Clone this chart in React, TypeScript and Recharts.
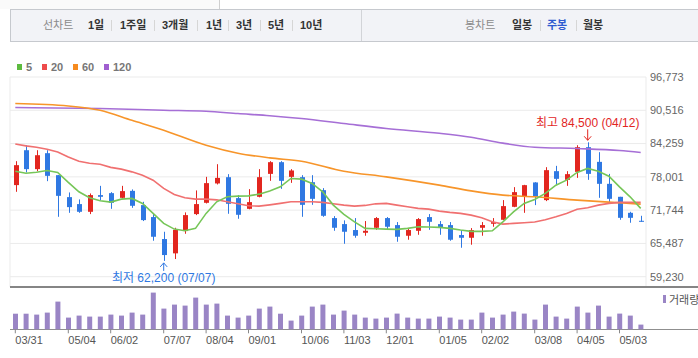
import React from 'react';
import { ComposedChart, BarChart, Bar, Line, XAxis, YAxis, CartesianGrid, ReferenceDot } from 'recharts';

// weekly candles
const dates = [
  '03/31', '04/07', '04/14', '04/21', '04/28', '05/04', '05/11', '05/18', '05/25', '06/02',
  '06/09', '06/16', '06/23', '06/30', '07/07', '07/14', '07/21', '07/28', '08/04', '08/11',
  '08/18', '08/25', '09/01', '09/08', '09/15', '09/22', '09/29', '10/06', '10/13', '10/20',
  '10/27', '11/03', '11/10', '11/17', '11/24', '12/01', '12/08', '12/15', '12/22', '12/29',
  '01/05', '01/12', '01/19', '01/26', '02/02', '02/09', '02/16', '02/23', '03/02', '03/08',
  '03/15', '03/22', '03/29', '04/05', '04/12', '04/19', '04/26', '05/03', '05/10', '05/17',
];

const opens = [
  76450, 83010, 79450, 82450, 78320, 74190, 72880, 71430, 74570, 74940,
  74060, 75370, 72690, 70440, 66310, 63620, 67810, 71000, 73120, 76760,
  77940, 74000, 71990, 74250, 78560, 80760, 78000, 77940, 77000, 75500,
  70250, 69120, 68000, 67490, 68430, 70250, 68930, 66930, 67860, 70440,
  69120, 68930, 67060, 66550, 68430, 69180, 69930, 72370, 74250, 76950,
  73630, 79070, 77440, 78940, 83580, 80820, 76690, 74250, 71240, 69740,
];
const highs = [
  80950, 83950, 83010, 83010, 78320, 75070, 73760, 74880, 76310, 75130,
  76310, 75640, 73310, 71190, 67680, 68430, 71320, 75450, 78000, 80380,
  78510, 74570, 75690, 79450, 80950, 80950, 79450, 78320, 78320, 75880,
  70620, 69820, 70250, 69690, 70440, 70440, 69500, 68240, 70250, 71000,
  69690, 69500, 68000, 68370, 69500, 70250, 73630, 76070, 76500, 77000,
  79820, 80070, 79070, 83950, 84500, 82640, 78560, 74250, 71430, 70680,
];
const lows = [
  75190, 78830, 79070, 77190, 70490, 71240, 71240, 71000, 73570, 71990,
  73950, 72180, 69690, 65990, 62200, 62550, 67300, 70810, 73000, 76570,
  71060, 70120, 71900, 74150, 77250, 75750, 76870, 70490, 72740, 70490,
  67860, 65420, 66550, 66930, 68050, 68050, 65800, 66180, 67110, 68050,
  67110, 65990, 64670, 65240, 66930, 68620, 69900, 72300, 71240, 72690,
  73440, 76570, 76310, 77810, 77440, 74060, 73120, 69930, 69370, 69550,
];
const closes = [
  80200, 79450, 82070, 78190, 74430, 72310, 71430, 74570, 74250, 73120,
  75320, 72560, 69870, 66740, 63300, 68050, 70810, 72880, 76820, 77810,
  72930, 70870, 73250, 77940, 80760, 77250, 79200, 72740, 73870, 70680,
  68430, 67680, 66930, 67860, 70250, 68620, 66740, 68000, 70060, 69550,
  68430, 66180, 66550, 68000, 68930, 69500, 72500, 75130, 76440, 74250,
  79260, 77630, 78510, 83580, 78560, 76690, 73870, 70300, 70300, 69550,
];
const volumes = [
  1560, 1560, 1470, 1670, 2770, 1170, 1370, 1270, 1270, 1470,
  1370, 1670, 1470, 3670, 2070, 2470, 2370, 3170, 2470, 2570,
  1370, 1170, 1370, 2070, 2270, 1560, 870, 1370, 2270, 2470,
  1470, 1870, 1470, 1170, 1070, 1170, 1570, 1170, 1070, 1070,
  1270, 1170, 970, 970, 1670, 1170, 1470, 1770, 1570, 970,
  2470, 1270, 1070, 2270, 1670, 2370, 1270, 1570, 1370, 470,
];

// moving averages
const ma5 = [
  79070, 78690, 78880, 79200, 78830, 76950, 75190, 74060, 73500, 73250,
  73810, 73950, 73010, 71130, 69250, 68180, 67860, 68320, 71130, 73310,
  74250, 74380, 74430, 74750, 75320, 76120, 77700, 77570, 76760, 75190,
  72690, 70940, 69550, 68320, 68240, 68180, 68130, 68320, 68620, 68560,
  68500, 68320, 68000, 67750, 67750, 67860, 69550, 71430, 73010, 73760,
  74880, 76440, 77380, 78830, 79580, 79070, 78130, 76120, 74250, 72070,
];
const ma20 = [
  84190, 83820, 83580, 83200, 82690, 81750, 80950, 80570, 80380, 79780,
  79450, 78940, 78320, 77380, 75820, 74700, 74060, 73810, 73810, 73680,
  73310, 72930, 72560, 72500, 72740, 73010, 73310, 73310, 73310, 73200,
  72930, 72690, 72500, 72630, 72930, 73010, 72690, 72370, 72070, 71940,
  71560, 71320, 71130, 70810, 70300, 69550, 69120, 69250, 69370, 69500,
  69930, 70490, 71130, 71900, 72180, 72690, 73010, 73200, 73200, 73200,
];
const ma60Idx = [0, 5, 8, 11, 14, 18, 21, 24, 27, 31, 35, 40, 43, 46, 49, 53, 57, 59];
const ma60Val = [91780, 91330, 90520, 88640, 86770, 83950, 82450, 81570, 80950, 79070, 78000, 76440, 75370, 74570, 74250, 73630, 73120, 72880];
const ma120Idx = [0, 8, 14, 18, 21, 24, 27, 31, 35, 40, 43, 46, 49, 53, 57, 59];
const ma120Val = [91030, 90840, 90520, 90330, 89900, 89490, 88960, 88020, 87090, 86200, 85450, 84340, 83570, 83330, 82960, 82580];

const tickDates = ['03/31', '05/04', '06/02', '07/07', '08/04', '09/01', '10/06', '11/03', '12/01', '01/05', '02/02', '03/08', '04/05', '05/03'];
const yTicks = [59230, 65487, 71744, 78001, 84259, 90516, 96773];

const maLegend = [
  { name: '5', color: '#5dbb3f' },
  { name: '20', color: '#ee4b4b' },
  { name: '60', color: '#f68b1f' },
  { name: '120', color: '#a05fd0' },
];
const periodTabs = ['1일', '1주일', '3개월', '1년', '3년', '5년', '10년'];
const candleTabs = ['일봉', '주봉', '월봉'];

const UP = '#e2261f';
const DOWN = '#2f78e2';
const FONT = '"Liberation Sans", "Noto Sans CJK KR", sans-serif';

const fmt = (v: number) => v.toLocaleString('en-US');

const chartData = dates.map((date, i) => {
  const j60 = ma60Idx.indexOf(i);
  const j120 = ma120Idx.indexOf(i);
  return {
    date,
    open: opens[i],
    high: highs[i],
    low: lows[i],
    close: closes[i],
    range: [lows[i], highs[i]],
    ma5: ma5[i],
    ma20: ma20[i],
    ma60: j60 >= 0 ? ma60Val[j60] : null,
    ma120: j120 >= 0 ? ma120Val[j120] : null,
    vol: volumes[i],
  };
});

const hiIdx = highs.indexOf(Math.max(...highs));
const loIdx = lows.indexOf(Math.min(...lows));

const Candle = (props: any) => {
  const { x, y, width, height, payload } = props;
  if (x == null || !payload) return null;
  const { open, close, high, low } = payload;
  const color = close >= open ? UP : DOWN;
  const yTop = Math.min(y, y + height);
  const h = Math.abs(height);
  const cx = Math.round(x + width / 2);
  const k = high > low ? h / (high - low) : 0;
  const top = yTop + (high - Math.max(open, close)) * k;
  const bot = yTop + (high - Math.min(open, close)) * k;
  return (
    <g>
      <line x1={cx + 0.5} x2={cx + 0.5} y1={yTop} y2={yTop + h} stroke={color} strokeWidth={1} />
      <rect x={cx - 2} y={top} width={5} height={Math.max(bot - top, 1)} fill={color} />
    </g>
  );
};

const HighMark = (p: any) => {
  const { cx, cy } = p;
  return (
    <g>
      <text x={cx} y={cy - 18} textAnchor="middle" dominantBaseline="middle" fill={UP} fontSize={12} fontFamily={FONT}>
        {`최고 ${fmt(highs[hiIdx])} (${dates[hiIdx]})`}
      </text>
      <line x1={cx} x2={cx} y1={cy - 13} y2={cy - 2} stroke={UP} />
      <polyline points={`${cx - 3.5},${cy - 6} ${cx},${cy - 2} ${cx + 3.5},${cy - 6}`} fill="none" stroke={UP} />
    </g>
  );
};

const LowMark = (p: any) => {
  const { cx, cy } = p;
  return (
    <g>
      <line x1={cx} x2={cx} y1={cy + 2} y2={cy + 10} stroke={DOWN} />
      <polyline points={`${cx - 3.5},${cy + 6} ${cx},${cy + 2} ${cx + 3.5},${cy + 6}`} fill="none" stroke={DOWN} />
      <text x={cx} y={cy + 18} textAnchor="middle" dominantBaseline="middle" fill={DOWN} fontSize={12} fontFamily={FONT}>
        {`최저 ${fmt(lows[loIdx])} (${dates[loIdx]})`}
      </text>
    </g>
  );
};

const DateTick = (props: any) => (
  <text x={props.x} y={props.y} dy="0.71em" textAnchor="start" fontSize={11} fill="#555" fontFamily={FONT}>
    {props.payload.value}
  </text>
);

const tabLefts = [88, 120, 162, 206, 236, 268, 300];
const tabSeps = [111, 154, 197, 228, 260, 292];
const candleLefts = [512, 547, 583];
const candleSeps = [540, 576];

const abs = (left: number, top: number, extra: React.CSSProperties = {}): React.CSSProperties => ({
  position: 'absolute',
  left,
  top,
  ...extra,
});

const App: React.FC = () => {
  const headText: React.CSSProperties = { fontSize: 11, lineHeight: '14px', fontFamily: FONT, whiteSpace: 'nowrap' };
  const textTop = 18;
  return (
    <div style={{ position: 'fixed', left: 0, top: 0, width: 698, height: 358, background: '#fff', overflow: 'hidden', fontFamily: FONT }}>
      {/* header tabs */}
      <div style={abs(0, 0, { width: 219, height: 9, background: '#fafafa', borderRight: '1px solid #cfcfcf' })} />
      <div style={abs(10, 9, { width: 700, height: 31, background: '#f2f3f7', borderTop: '1px solid #c6c9ce', borderBottom: '1px solid #c6c9ce', borderLeft: '1px solid #c6c9ce' })} />
      <div style={abs(361, 10, { width: 1, height: 31, background: '#d2d4d8' })} />
      <div style={abs(43, textTop, { ...headText, color: '#8a8a8a' })}>선차트</div>
      {periodTabs.map((t, i) => (
        <div key={t} style={abs(tabLefts[i], textTop, { ...headText, color: '#333', fontWeight: 'bold' })}>{t}</div>
      ))}
      {tabSeps.map((x) => (
        <div key={x} style={abs(x, textTop + 2, { width: 1, height: 11, background: '#d6d6d6' })} />
      ))}
      <div style={abs(465, textTop, { ...headText, color: '#8a8a8a' })}>봉차트</div>
      {candleTabs.map((t, i) => (
        <div key={t} style={abs(candleLefts[i], textTop, { ...headText, color: t === '주봉' ? '#2f5bd0' : '#333', fontWeight: 'bold' })}>{t}</div>
      ))}
      {candleSeps.map((x) => (
        <div key={x} style={abs(x, textTop + 2, { width: 1, height: 11, background: '#d6d6d6' })} />
      ))}

      {/* MA legend */}
      {maLegend.map((m, i) => {
        const lefts = [17, 42, 73, 104];
        return (
          <div key={m.name} style={abs(lefts[i], 60, { display: 'flex', alignItems: 'center', height: 14 })}>
            <span style={{ width: 5, height: 6, background: m.color, display: 'inline-block' }} />
            <span style={{ marginLeft: 4, fontSize: 11, fontWeight: 'bold', color: '#777' }}>{m.name}</span>
          </div>
        );
      })}

      <div style={abs(0, 0)}>
        <ComposedChart width={698} height={290} data={chartData} margin={{ top: 77, right: 0, bottom: 3, left: 10 }}>
          <CartesianGrid stroke="#ebebeb" />
          <XAxis dataKey="date" ticks={tickDates} interval={0} height={0} tick={false} axisLine={false} tickLine={false} />
          <YAxis
            orientation="right"
            width={52}
            domain={[57294, 96773]}
            ticks={yTicks}
            allowDataOverflow
            tickFormatter={fmt}
            axisLine={false}
            tickLine={false}
            tickSize={4}
            tickMargin={0}
            tick={{ fontSize: 11, fill: '#666', fontFamily: FONT }}
          />
          <Bar dataKey="range" shape={<Candle />} barSize={5} isAnimationActive={false} />
          <Line type="monotone" dataKey="ma120" stroke="#a66fd6" strokeWidth={1.6} dot={false} connectNulls isAnimationActive={false} />
          <Line type="monotone" dataKey="ma60" stroke="#f7952a" strokeWidth={1.6} dot={false} connectNulls isAnimationActive={false} />
          <Line type="linear" dataKey="ma20" stroke="#f07070" strokeWidth={1.6} dot={false} isAnimationActive={false} />
          <Line type="linear" dataKey="ma5" stroke="#76c658" strokeWidth={1.6} dot={false} isAnimationActive={false} />
          <ReferenceDot x={dates[hiIdx]} y={highs[hiIdx]} r={0} shape={HighMark} />
          <ReferenceDot x={dates[loIdx]} y={lows[loIdx]} r={0} shape={LowMark} />
        </ComposedChart>
      </div>

      {/* pane separator and volume baseline */}
      <div style={abs(10, 286, { width: 688, height: 2, background: '#858585' })} />
      <div style={abs(10, 329, { width: 688, height: 1, background: '#8f8f8f' })} />

      <div style={abs(0, 280)}>
        <BarChart width={698} height={78} data={chartData} margin={{ top: 7, right: 52, bottom: 0, left: 10 }}>
          <XAxis
            dataKey="date"
            ticks={tickDates}
            interval={0}
            height={28.7}
            axisLine={false}
            tickLine={{ stroke: '#888' }}
            tickSize={4}
            tickMargin={3}
            tick={<DateTick />}
          />
          <YAxis hide domain={[0, 4230]} />
          <Bar dataKey="vol" fill="#9a85c5" barSize={5} isAnimationActive={false} />
        </BarChart>
      </div>

      {/* volume legend */}
      <div style={abs(663, 292, { display: 'flex', alignItems: 'center', height: 14, whiteSpace: 'nowrap' })}>
        <span style={{ width: 3, height: 8, background: '#9a85c5', display: 'inline-block' }} />
        <span style={{ marginLeft: 3, fontSize: 11, color: '#555' }}>거래량</span>
      </div>
    </div>
  );
};

export default App;
